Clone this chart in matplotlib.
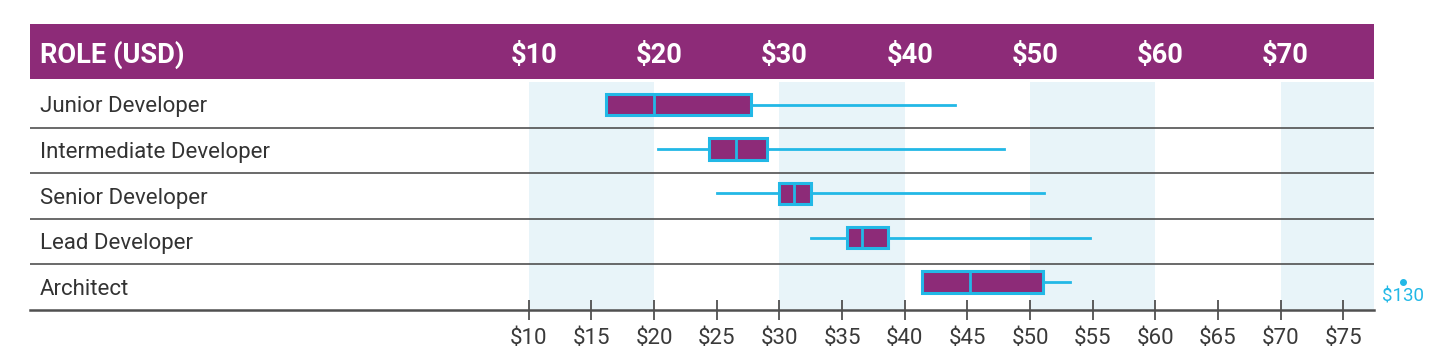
import matplotlib
matplotlib.use('Agg')
import matplotlib.pyplot as plt

# data (USD per hour)
roles = ['Junior Developer', 'Intermediate Developer', 'Senior Developer',
         'Lead Developer', 'Architect']
q1 = [16.2, 24.4, 30.0, 35.4, 41.4]
med = [20.0, 26.5, 31.2, 36.6, 45.2]
q3 = [27.7, 29.0, 32.5, 38.7, 51.0]
lo = [16.2, 20.3, 25.0, 32.5, 41.4]
hi = [44.0, 47.9, 51.1, 54.8, 53.2]
outlier_role = 'Architect'
outlier_val = 130

header_ticks = [10, 20, 30, 40, 50, 60, 70]
axis_ticks = [10, 15, 20, 25, 30, 35, 40, 45, 50, 55, 60, 65, 70, 75]
bands = [(10, 20), (30, 40), (50, 60), (70, 80)]

purple = '#8d2b78'
cyan = '#22b8e6'
band_col = '#e8f4f9'
grid_col = '#505050'

plt.rcParams['font.family'] = ['Roboto', 'DejaVu Sans']

fig = plt.figure(figsize=(14.39, 3.55), dpi=100)
ax = fig.add_axes([30 / 1439, 1 - 310 / 355, 1344 / 1439, 286 / 355])
xmin, xmax = -29.8, 77.45
ax.set_xlim(xmin, xmax)
ax.set_ylim(0, 6.27)

n = len(roles)
# shaded bands
for a, b in bands:
    ax.fill_between([a, min(b, xmax)], 0, n, color=band_col, lw=0, zorder=0)

# header bar
ax.axhspan(5.066, 6.27, color=purple, lw=0, zorder=1)
hy = 5.42  # baseline of header text
ax.text(xmin + 0.8, hy, 'ROLE (USD)', color='white', fontsize=19.6,
        fontweight='bold', va='baseline', ha='left', zorder=3)
for t in header_ticks:
    ax.text(t + 0.4, hy, f'${t}', color='white', fontsize=19.6,
            fontweight='bold', va='baseline', ha='center', zorder=3)

# row separators
for i in range(1, n):
    ax.axhline(i, color=grid_col, lw=1.2, zorder=2)

# row labels
for i, r in enumerate(roles):
    y = n - i - 0.5
    ax.text(xmin + 0.8, y - 0.17, r, color='#333333', fontsize=16,
            va='baseline', ha='left', zorder=3)

stats = []
for i, r in enumerate(roles):
    stats.append(dict(label=r, q1=q1[i], med=med[i], q3=q3[i],
                      whislo=lo[i], whishi=hi[i], fliers=[]))
# boxes sit on a slightly tighter pitch than the rows
positions = [n - 0.5 - i * 0.972 for i in range(n)]
ax.bxp(stats, positions=positions, widths=0.47, orientation='horizontal',
       patch_artist=True, showcaps=False, showfliers=False,
       boxprops=dict(facecolor=purple, edgecolor=cyan, lw=2.2),
       medianprops=dict(color=cyan, lw=2),
       whiskerprops=dict(color=cyan, lw=2), manage_ticks=False)

# off-scale outlier
oy = positions[roles.index(outlier_role)]
ox = xmax + 2.3
ax.plot([ox], [oy], 'o', color=cyan, ms=4, clip_on=False, zorder=4)
ax.text(ox, oy - 0.12, f'${outlier_val}', color=cyan, fontsize=13.5,
        ha='center', va='top', clip_on=False)

# axis
for s in ['top', 'right', 'left']:
    ax.spines[s].set_visible(False)
ax.spines['bottom'].set_color(grid_col)
ax.spines['bottom'].set_linewidth(1.8)
ax.set_yticks([])
ax.set_xticks(axis_ticks)
ax.set_xticklabels([f'${t}' for t in axis_ticks])
ax.tick_params(axis='x', direction='inout', length=14, width=1.3,
               color=grid_col, labelsize=16, labelcolor='#3a3a3a', pad=6)

fig.savefig('out.png', dpi=100)
